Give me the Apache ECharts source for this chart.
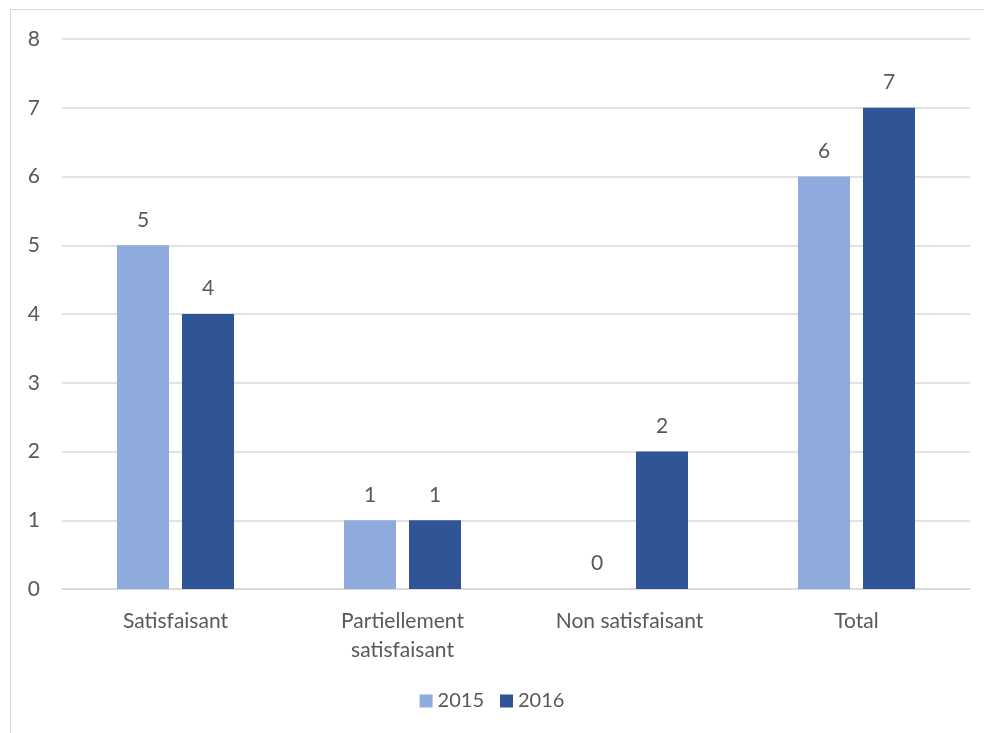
<!DOCTYPE html>
<html>
<head>
<meta charset="utf-8">
<script src="https://cdn.jsdelivr.net/npm/echarts@6/dist/echarts.min.js"></script>
<style>
  html, body { margin: 0; padding: 0; background: #fff; overflow: hidden; }
  #frame { position: absolute; left: 10px; top: 9px; width: 1000px; height: 760px; border: 1px solid #d9d9d9; }
  #chart { position: absolute; left: 0; top: 0; width: 984px; height: 733px; }
</style>
</head>
<body>
<div id="frame"></div>
<div id="chart"></div>
<script>
const categories = ['Satisfaisant', 'Partiellement\nsatisfaisant', 'Non satisfaisant', 'Total'];
const values2015 = [5, 1, 0, 6];
const values2016 = [4, 1, 2, 7];

const textColor = '#595959';
const font = 'Lato, "Open Sans", sans-serif';
const fontSize = 21;

const chart = echarts.init(document.getElementById('chart'));

const label = {
  show: true,
  position: 'top',
  distance: 15,
  color: textColor,
  fontSize: fontSize,
  fontFamily: font,
};

chart.setOption({
  animation: false,
  grid: { left: 62, right: 14, top: 39, bottom: 144 },
  legend: {
    bottom: 17,
    left: 'center',
    itemWidth: 13,
    itemHeight: 13,
    itemGap: 16,
    icon: 'rect',
    textStyle: { color: textColor, fontSize: 20, fontFamily: font },
    data: ['2015', '2016'],
  },
  xAxis: {
    type: 'category',
    data: categories,
    axisLine: { lineStyle: { color: '#d9d9d9', width: 1.5 } },
    axisTick: { show: false },
    axisLabel: { color: textColor, fontSize: fontSize, fontFamily: font, margin: 18, lineHeight: 29 },
  },
  yAxis: {
    type: 'value',
    min: 0,
    max: 8,
    interval: 1,
    axisLine: { show: false },
    axisTick: { show: false },
    axisLabel: { color: textColor, fontSize: fontSize, fontFamily: font, margin: 22 },
    splitLine: { lineStyle: { color: '#d9d9d9', width: 1.5 } },
  },
  series: [
    {
      name: '2015',
      type: 'bar',
      data: values2015,
      barWidth: 52,
      barGap: '25%',
      itemStyle: { color: '#8faadc' },
      label,
    },
    {
      name: '2016',
      type: 'bar',
      data: values2016,
      barWidth: 52,
      itemStyle: { color: '#2f5597' },
      label,
    },
  ],
});
</script>
</body>
</html>
